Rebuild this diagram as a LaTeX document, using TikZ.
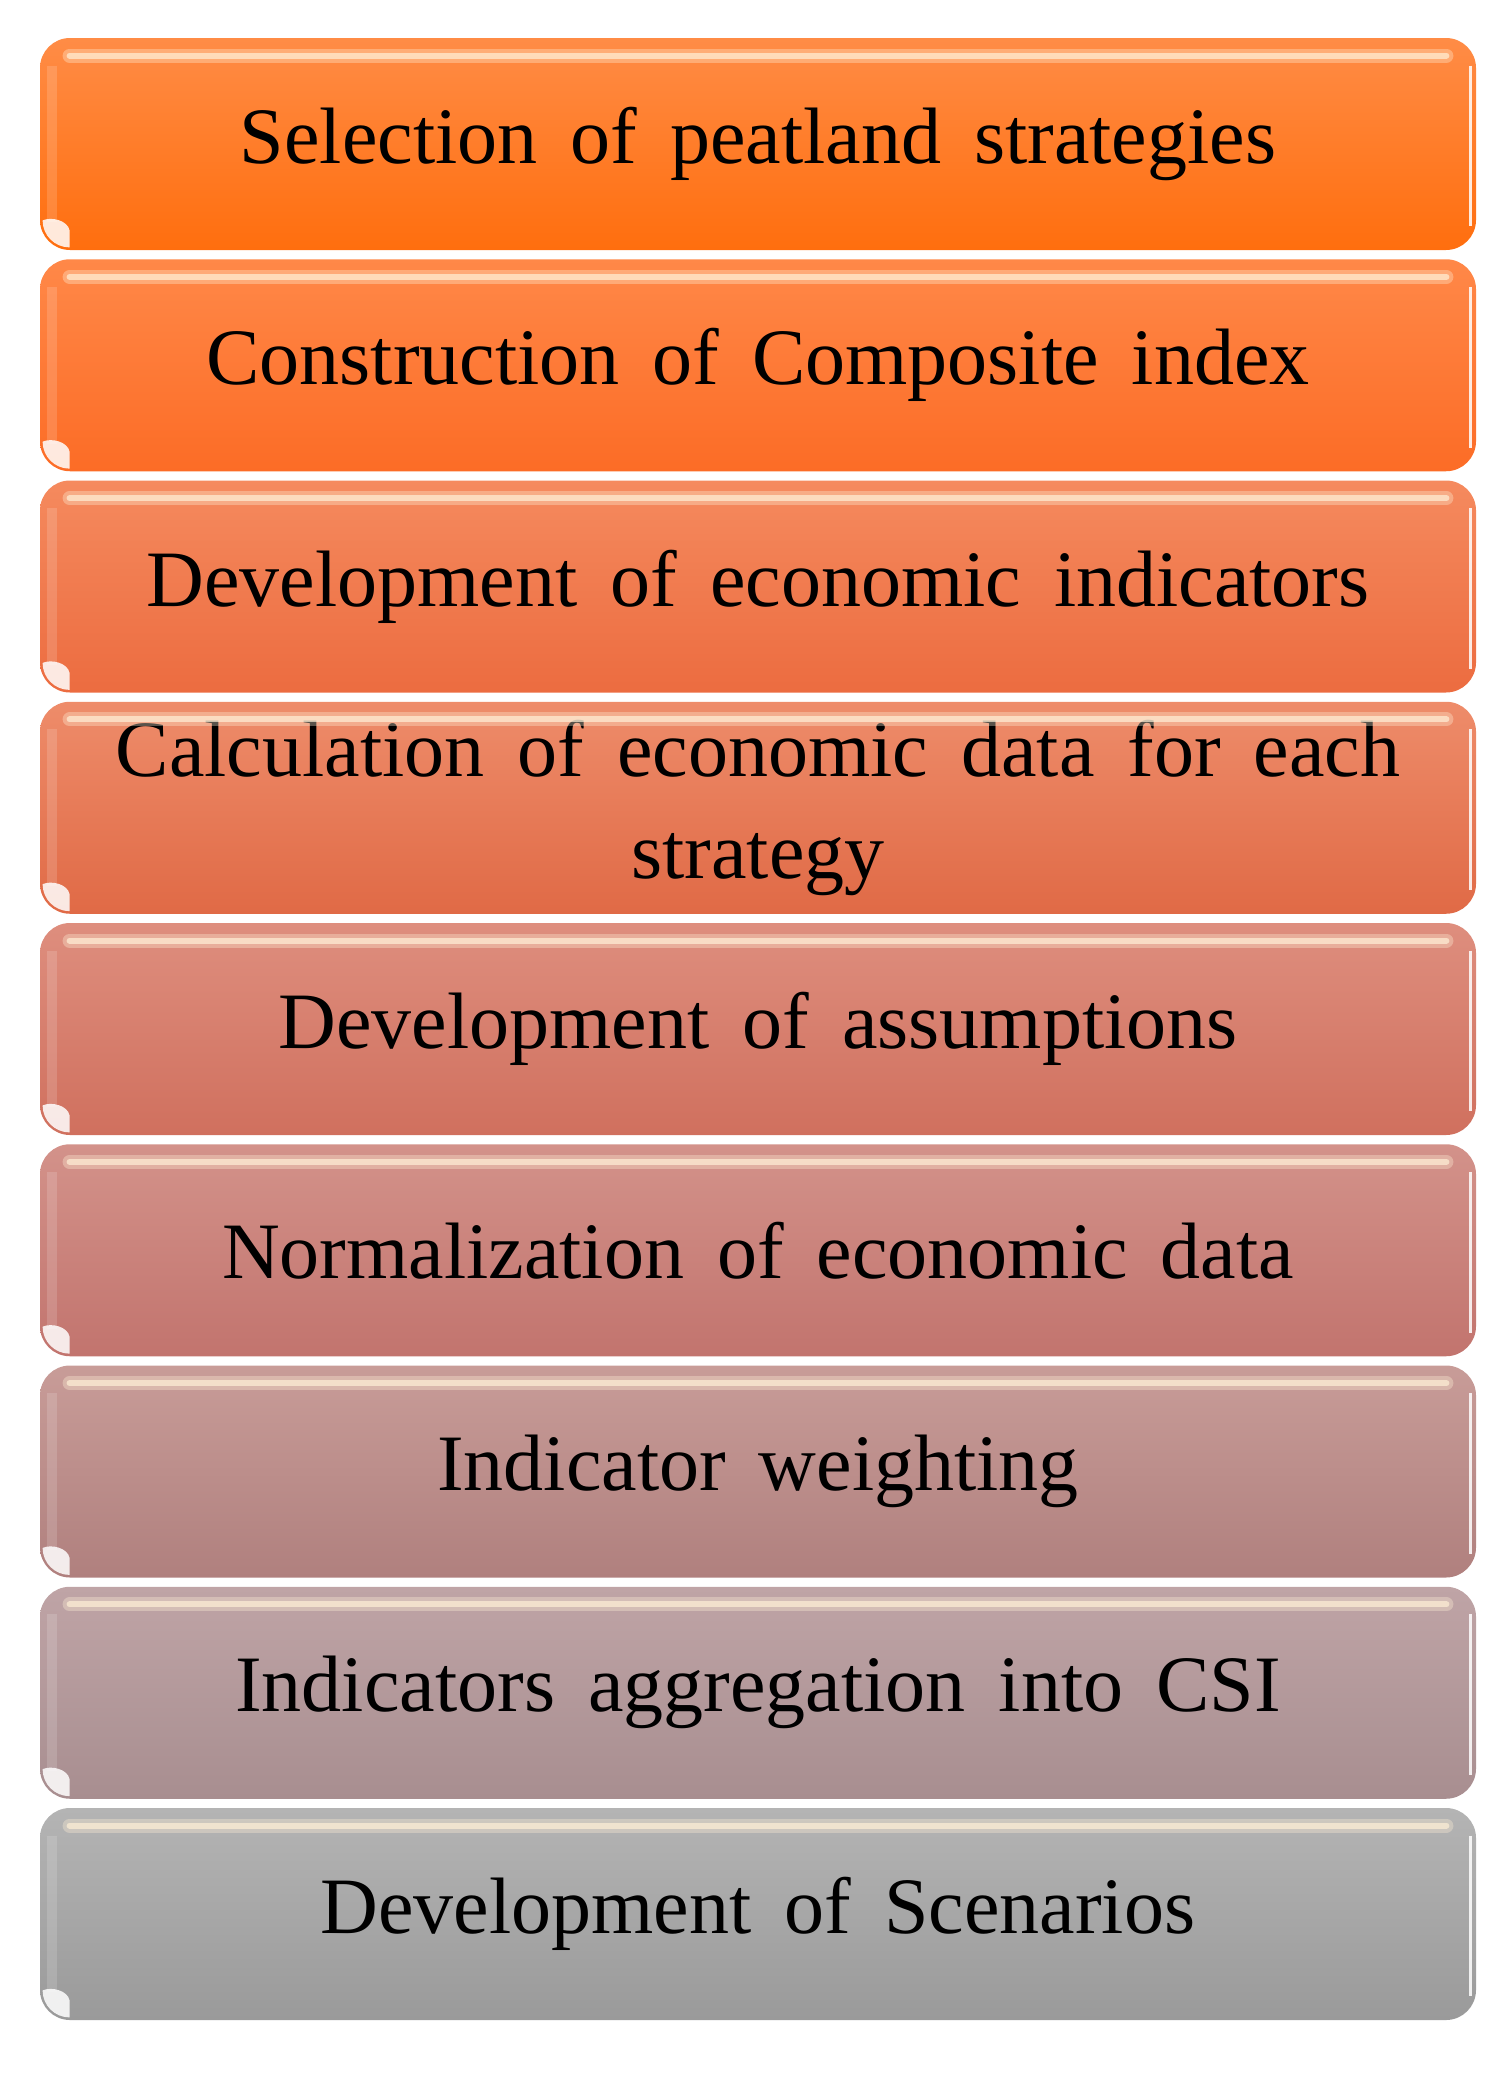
\documentclass[tikz,border=0pt]{standalone}
\usepackage{fontspec}
\setmainfont{Liberation Serif}[WordSpace=1.65]
\definecolor{hl}{RGB}{255,240,215}
\begin{document}
\begin{tikzpicture}[x=0.5pt,y=-0.5pt,
  box/.style={rounded corners=15pt, minimum width=718pt, minimum height=106pt,
    inner sep=0pt, align=center, font=\fontsize{40}{48}\selectfont, text=black},
  gloss/.style={line cap=round}]
\useasboundingbox (0,0) rectangle (1499,2073);
\node[box, top color={rgb,255:red,255;green,140;blue,70}, bottom color={rgb,255:red,255;green,110;blue,14}] (b1) at (758,144) {Selection of peatland strategies};
\node[box, top color={rgb,255:red,255;green,136;blue,72}, bottom color={rgb,255:red,252;green,108;blue,38}] (b2) at (758,365.25) {Construction of Composite index};
\node[box, top color={rgb,255:red,245;green,138;blue,94}, bottom color={rgb,255:red,236;green,108;blue,64}] (b3) at (758,586.5) {Development of economic indicators};
\node[box, top color={rgb,255:red,238;green,140;blue,106}, bottom color={rgb,255:red,224;green,106;blue,70}] (b4) at (758,807.75) {Calculation of economic data for each\\[3pt]strategy};
\node[box, top color={rgb,255:red,222;green,142;blue,126}, bottom color={rgb,255:red,208;green,112;blue,94}] (b5) at (758,1029) {Development of assumptions};
\node[box, top color={rgb,255:red,211;green,146;blue,138}, bottom color={rgb,255:red,194;green,116;blue,110}] (b6) at (758,1250.25) {Normalization of economic data};
\node[box, top color={rgb,255:red,200;green,156;blue,152}, bottom color={rgb,255:red,176;green,128;blue,126}] (b7) at (758,1471.5) {Indicator weighting};
\node[box, top color={rgb,255:red,191;green,164;blue,166}, bottom color={rgb,255:red,168;green,142;blue,144}] (b8) at (758,1692.75) {Indicators aggregation into CSI};
\node[box, top color={rgb,255:red,180;green,180;blue,180}, bottom color={rgb,255:red,154;green,154;blue,154}] (b9) at (758,1914) {Development of Scenarios};
\foreach \n in {b1,b2,b3,b4,b5,b6,b7,b8,b9}{
  \begin{scope}
    \clip[rounded corners=15pt] (\n.south west) rectangle (\n.north east);
    \draw[hl, gloss, line width=7pt, opacity=0.35] ([xshift=15pt,yshift=-9pt]\n.north west) -- ([xshift=-15pt,yshift=-9pt]\n.north east);
    \draw[hl, gloss, line width=3pt, opacity=0.7] ([xshift=15pt,yshift=-9pt]\n.north west) -- ([xshift=-15pt,yshift=-9pt]\n.north east);
    \draw[white, line width=1.5pt, opacity=0.85] ([xshift=-3pt,yshift=-14pt]\n.north east) -- ([xshift=-3pt,yshift=12pt]\n.south east);
    \draw[white, line width=5pt, opacity=0.15] ([xshift=6pt,yshift=-14pt]\n.north west) -- ([xshift=6pt,yshift=14pt]\n.south west);
    \fill[white, opacity=0.85] ([xshift=1.5pt,yshift=15pt]\n.south west) arc[start angle=180, end angle=270, radius=13.5pt]
      -- ([xshift=15pt,yshift=10pt]\n.south west)
      .. controls ([xshift=14pt,yshift=15pt]\n.south west) and ([xshift=6pt,yshift=17pt]\n.south west) .. cycle;
  \end{scope}
}
\end{tikzpicture}
\end{document}
